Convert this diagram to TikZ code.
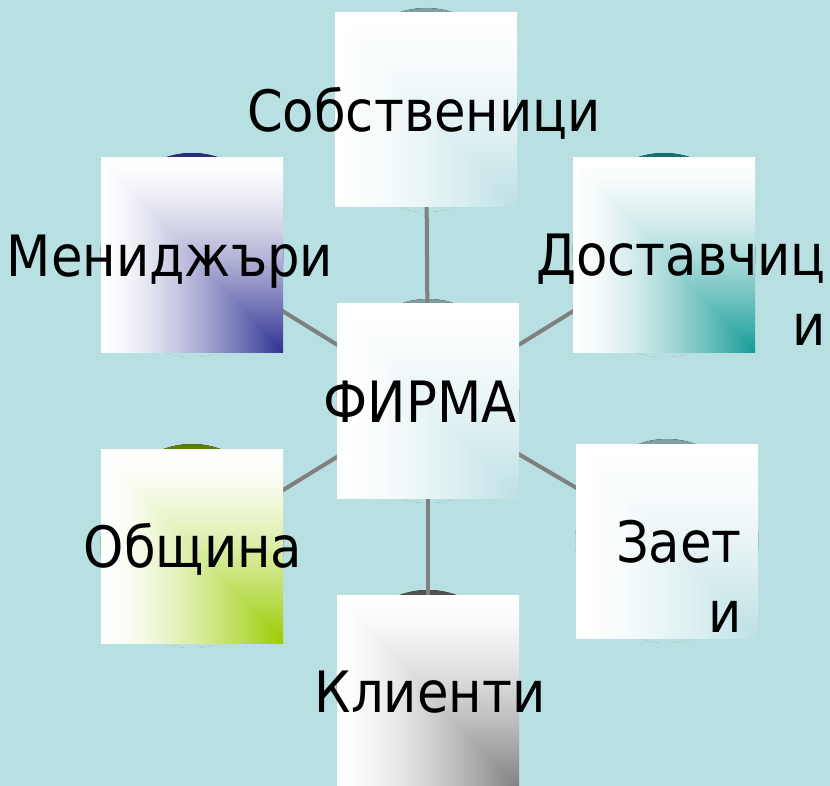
\documentclass[tikz,border=0pt]{standalone}
\usepackage{fontspec}
\setmainfont{DejaVu Sans Condensed}

\definecolor{bgblue}{HTML}{B8DFE2}
\definecolor{linkgray}{HTML}{808080}
\definecolor{palec}{HTML}{BCE0E3}
\definecolor{navyc}{HTML}{2E3192}
\definecolor{tealc}{HTML}{149B98}
\definecolor{greenc}{HTML}{99CC00}
\definecolor{grayc}{HTML}{808080}
\definecolor{arcpale}{HTML}{7C9FA2}
\definecolor{arcnavy}{HTML}{262A7A}
\definecolor{arcteal}{HTML}{146E6C}
\definecolor{arcgreen}{HTML}{5A7D00}
\definecolor{arcgray}{HTML}{505050}
\colorlet{cardc}{grayc}

% rectangular ramp: white at the upper left, deepening into cardc at the lower right corner
\pgfdeclarefunctionalshading[cardc]{cardcorner}{\pgfpoint{-50bp}{-50bp}}{\pgfpoint{50bp}{50bp}}
{\pgfshadecolortorgb{cardc}{\cardrgb}}
{%
  25 add exch 25 exch sub
  2 copy sub abs add add 2 div
  50 div 1 exch sub
  dup abs add 2 div
  dup sqrt mul
  dup 1 \cardrgbred\space sub mul 1 exch sub
  exch
  dup 1 \cardrgbgreen\space sub mul 1 exch sub
  exch
  1 \cardrgbblue\space sub mul 1 exch sub
}

\pgfdeclarelayer{back}
\pgfdeclarelayer{mid}
\pgfsetlayers{back,mid,main}

\tikzset{
  card/.style={
    minimum width=182pt, minimum height=194pt, inner sep=0pt, outer sep=0pt,
    path picture={
      \colorlet{cardc}{#1}
      \fill[shading=cardcorner]
        (path picture bounding box.south west) rectangle (path picture bounding box.north east);
    }},
  link/.style={draw=linkgray, line width=4pt},
  caption/.style={font=\fontsize{57}{70}\selectfont, inner sep=0pt, text=black},
}

\begin{document}
\begin{tikzpicture}[x=1pt, y=-1pt]
  \useasboundingbox (0,0) rectangle (830,786);

  % squares
  \node[card=palec]  (sob)  at (426,110) {};
  \node[card=navyc]  (man)  at (192,255) {};
  \node[card=tealc]  (dos)  at (664,255) {};
  \node[card=palec]  (firm) at (428,401) {};
  \node[card=greenc] (obs)  at (192,546) {};
  \node[card=palec]  (zae)  at (667,541) {};
  \node[card=grayc]  (kli)  at (428,692) {};

  % background and the rims peeking out above each square
  \begin{pgfonlayer}{back}
    \fill[bgblue] (0,0) rectangle (830,786);
    \foreach \n/\c in {sob/arcpale, man/arcnavy, dos/arcteal, firm/arcpale,
                       obs/arcgreen, zae/arcpale, kli/arcgray} {
      \fill[top color=\c, bottom color=white]
        (\n.center) ellipse[x radius=91.5pt, y radius=102pt];
      \fill[bgblue]
        ([yshift=-3pt]\n.center) ellipse[x radius=91.5pt, y radius=99pt];
    }
  \end{pgfonlayer}

  % connectors from the firm to each group
  \begin{pgfonlayer}{mid}
    \foreach \n in {sob, man, dos, obs, zae, kli}
      \draw[link] (firm.center) -- (\n.center);
  \end{pgfonlayer}

  % captions
  \node[caption, anchor=base] (tsob)  at (424,132) {Собственици};
  \node[caption, anchor=base] (tman)  at (170,277) {Мениджъри};
  \node[caption, anchor=base east, align=right] (tdos) at (826,345) {Доставчиц\\и};
  \node[caption, anchor=base] (tfirm) at (420,422) {ФИРМА};
  \node[caption, anchor=base] (tobs)  at (193,567) {Община};
  \node[caption, anchor=base east, align=right] (tzae) at (742,632) {Зает\\и};
  \node[caption, anchor=base] (tkli)  at (430,712) {Клиенти};
\end{tikzpicture}
\end{document}
